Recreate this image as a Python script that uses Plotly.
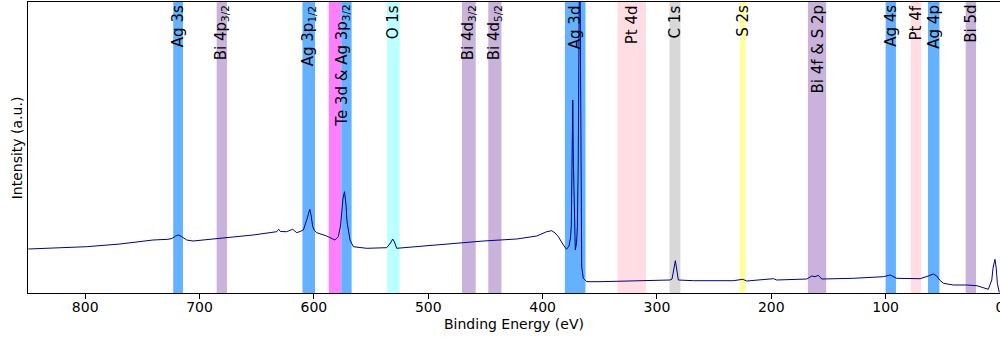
import plotly.graph_objects as go

# ---- spectrum (binding energy in eV, intensity in arbitrary units) ----
be_ev = [849.7, 830.8, 798.7, 769.5, 740.7, 727.6, 724.1, 721.0, 718.6, 715.8,
         711.2, 705.7, 682.1, 653.2, 632.5, 630.8, 629.2, 623.8, 618.5, 615.0,
         612.1, 609.2, 606.3, 604.7, 603.6, 602.5, 601.0, 599.5, 597.5, 588.8,
         585.1, 581.6, 578.7, 576.7, 575.7, 574.5, 573.2, 571.9, 571.0, 569.9,
         568.4, 565.5, 553.8, 536.3, 533.0, 531.1, 529.5, 527.6, 510.1, 481.0,
         451.8, 422.6, 405.1, 396.4, 392.0, 389.1, 386.2, 381.8, 379.1, 376.9,
         375.6, 374.9, 374.3, 373.6, 373.1, 372.3, 371.4, 370.3, 369.6, 368.8,
         368.1, 367.5, 366.9, 366.4, 365.8, 364.4, 361.4, 349.8, 306.1, 288.6,
         286.8, 285.1, 283.9, 282.9, 281.3, 268.2, 233.2, 225.0, 221.5, 198.2,
         195.2, 169.0, 164.6, 161.7, 158.9, 155.9, 128.3, 102.0, 96.1, 90.3,
         69.9, 62.7, 58.3, 55.3, 52.8, 49.5, 40.7, 29.0, 20.2, 10.2,
         7.2, 6.1, 4.4, 3.3, 2.3, 0.6]
intensity = [44.0, 44.7, 46.3, 49.0, 53.0, 53.7, 54.5, 57.0, 58.0, 56.5,
             53.0, 52.0, 54.7, 58.0, 61.3, 63.7, 61.5, 61.3, 63.7, 60.3,
             61.5, 63.0, 73.0, 81.0, 83.7, 78.0, 66.3, 62.5, 60.3, 57.0,
             55.0, 53.0, 56.3, 67.0, 80.0, 95.0, 101.3, 88.0, 71.0, 63.0,
             53.0, 46.3, 44.7, 45.3, 50.0, 54.0, 51.0, 44.7, 46.3, 49.7,
             52.0, 54.0, 57.0, 61.3, 62.3, 60.0, 56.3, 48.0, 43.7, 47.0,
             55.0, 67.0, 133.0, 193.0, 133.0, 67.0, 43.0, 50.0, 66.3, 133.0,
             240.0, 390.0, 240.0, 110.0, 26.3, 14.7, 11.3, 11.3, 12.0, 13.0,
             14.0, 25.0, 32.3, 25.0, 13.0, 12.3, 12.3, 13.7, 12.0, 14.3,
             13.0, 14.0, 17.0, 16.3, 17.7, 14.0, 14.7, 16.3, 18.0, 14.7,
             14.3, 17.0, 19.0, 17.0, 13.0, 9.7, 8.0, 8.0, 7.3, 3.7,
             13.0, 25.0, 33.7, 25.0, 9.7, 0.5]

# ---- highlighted regions ----
band_lo = [714.5, 676.0, 599.0, 576.0, 567.0, 525.0, 458.5, 436.0, 362.5,
           309.5, 279.5, 222.5, 152.0, 91.0, 69.0, 53.0, 21.0]
band_hi = [723.0, 685.0, 610.0, 587.0, 576.0, 536.0, 470.5, 447.5, 380.5,
           334.5, 289.0, 227.5, 168.0, 100.0, 78.0, 63.0, 30.0]
band_color = ["#63b1ff", "#c9b3da", "#63b1ff", "#ff80ff", "#63b1ff", "#bbffff",
              "#c9b3da", "#c9b3da", "#63b1ff", "#ffdde3", "#d8d8d8", "#ffff99",
              "#c9b3da", "#63b1ff", "#ffdde3", "#63b1ff", "#c9b3da"]

label_text = ["Ag 3s", "Bi 4p<sub>3/2</sub>", "Ag 3p<sub>1/2</sub>",
              "Te 3d & Ag 3p<sub>3/2</sub>", "O 1s", "Bi 4d<sub>3/2</sub>",
              "Bi 4d<sub>5/2</sub>", "Ag 3d", "Pt 4d", "C 1s", "S 2s",
              "Bi 4f & S 2p", "Ag 4s", "Pt 4f", "Ag 4p", "Bi 5d"]
label_pos = [718.7, 680.5, 604.5, 575.7, 530.5, 464.5, 441.8, 371.5, 322.0,
             284.3, 225.0, 160.0, 95.5, 73.5, 58.0, 25.5]

x_ticks = [800, 700, 600, 500, 400, 300, 200, 100, 0]

FONT = "DejaVu Sans"

fig = go.Figure()
fig.add_trace(go.Scatter(x=be_ev, y=intensity, mode="lines",
                         line=dict(color="#00008b", width=1),
                         showlegend=False, hoverinfo="skip"))

shapes = []
for lo, hi, c in zip(band_lo, band_hi, band_color):
    shapes.append(dict(type="rect", xref="x", yref="paper", x0=lo, x1=hi,
                       y0=0, y1=1, fillcolor=c, line=dict(width=0),
                       layer="below"))

annotations = []
for t, p in zip(label_text, label_pos):
    annotations.append(dict(text=t, x=p, xref="x", y=1, yref="paper",
                            yanchor="top", xanchor="center", textangle=-90,
                            showarrow=False, yshift=-1,
                            font=dict(family=FONT, size=15, color="black")))

# axis titles placed explicitly
annotations.append(dict(text="Binding Energy (eV)", x=0.5, xref="paper",
                        y=-0.105, yref="paper", yanchor="middle",
                        xanchor="center", showarrow=False,
                        font=dict(family=FONT, size=14, color="black")))
annotations.append(dict(text="Intensity (a.u.)", x=-0.0115, xref="paper",
                        y=0.5, yref="paper", yanchor="middle",
                        xanchor="center", textangle=-90, showarrow=False,
                        font=dict(family=FONT, size=14, color="black")))

fig.update_layout(
    width=1000, height=338,
    margin=dict(l=28, r=0, t=2, b=45),
    paper_bgcolor="white", plot_bgcolor="white",
    shapes=shapes, annotations=annotations,
    font=dict(family=FONT, size=14, color="black"),
    xaxis=dict(range=[850, 0], tickvals=x_ticks, ticks="outside", ticklen=5,
               tickwidth=1, tickcolor="black", showline=True, linecolor="black",
               linewidth=1, mirror=True, showgrid=False, zeroline=False,
               automargin=False, ticklabelstandoff=-4,
               ticklabeloverflow="allow",
               tickfont=dict(family=FONT, size=14, color="black")),
    yaxis=dict(range=[0, 291], showticklabels=False, ticks="", showline=True,
               linecolor="black", linewidth=1, showgrid=False, zeroline=False,
               automargin=False),
)

fig.write_html("out.html",
               config={"displayModeBar": False, "staticPlot": True},
               post_script="document.body.style.margin='0px';"
                           "document.body.style.overflow='hidden';")
